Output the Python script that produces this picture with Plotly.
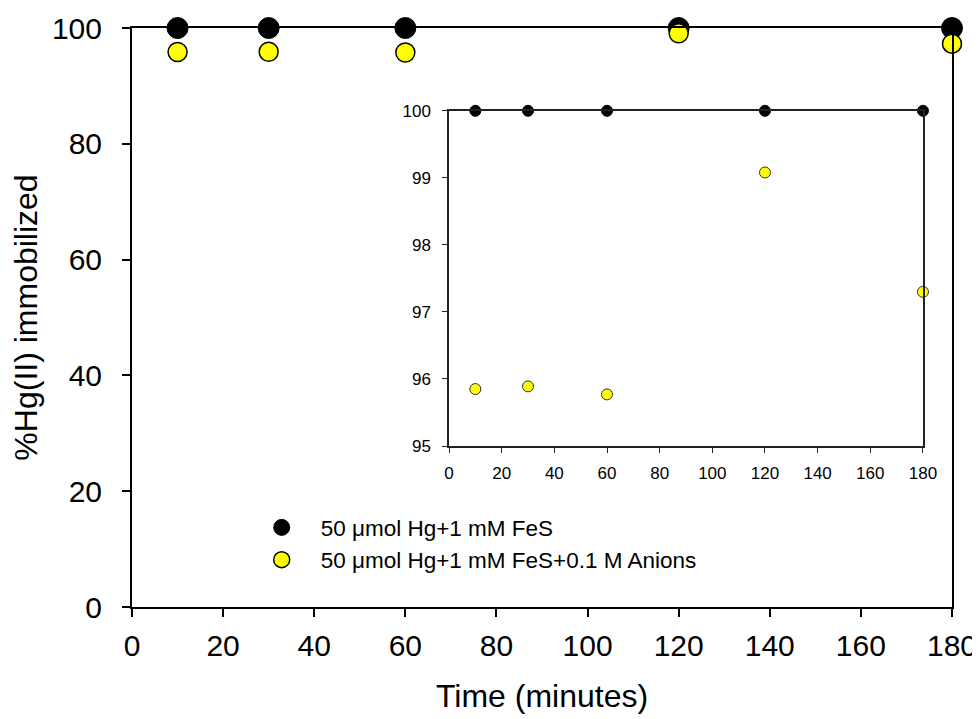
import plotly.graph_objects as go

time_min = [10, 30, 60, 120, 180]
fes_only = [100, 100, 100, 100, 100]
fes_anions = [95.85, 95.89, 95.77, 99.08, 97.30]

name_a = "50 μmol Hg+1 mM FeS"
name_b = "50 μmol Hg+1 mM FeS+0.1 M Anions"

font_family = "Liberation Sans, Arial, sans-serif"

fig = go.Figure()

# main axes
fig.add_trace(go.Scatter(x=time_min, y=fes_only, mode="markers", name=name_a,
                         marker=dict(size=21, color="black", line=dict(color="black", width=1)),
                         cliponaxis=False, xaxis="x", yaxis="y"))
fig.add_trace(go.Scatter(x=time_min, y=fes_anions, mode="markers", name=name_b,
                         marker=dict(size=19, color="#ffff00", line=dict(color="black", width=1.5)),
                         cliponaxis=False, xaxis="x", yaxis="y"))
# inset
fig.add_trace(go.Scatter(x=time_min, y=fes_only, mode="markers", showlegend=False,
                         marker=dict(size=11, color="black", line=dict(color="black", width=1)),
                         cliponaxis=False, xaxis="x2", yaxis="y2"))
fig.add_trace(go.Scatter(x=time_min, y=fes_anions, mode="markers", showlegend=False,
                         marker=dict(size=11, color="#ffff00", line=dict(color="#333333", width=1)),
                         cliponaxis=False, xaxis="x2", yaxis="y2"))

fig.update_layout(
    width=980, height=719,
    margin=dict(l=124, r=36, t=20, b=120, autoexpand=False),
    plot_bgcolor="white", paper_bgcolor="white",
    font=dict(family=font_family, color="black", size=30),
    xaxis=dict(domain=[0, 1], range=[0, 180], tickmode="array",
               tickvals=list(range(0, 181, 20)), showgrid=False, zeroline=False,
               showline=True, linecolor="black", linewidth=2, mirror=True,
               ticks="outside", ticklen=8, tickwidth=1.5, tickcolor="black",
               tickfont=dict(size=30), ticklabelstandoff=3,
               title=dict(text="Time (minutes)", font=dict(size=32), standoff=24)),
    yaxis=dict(domain=[0, 1], range=[0, 100], tickmode="array",
               tickvals=list(range(0, 101, 20)), showgrid=False, zeroline=False,
               showline=True, linecolor="black", linewidth=2, mirror=True,
               ticks="outside", ticklen=8, tickwidth=1.5, tickcolor="black",
               tickfont=dict(size=30), ticklabelstandoff=14,
               title=dict(text="%Hg(II) immobilized", font=dict(size=32), standoff=34)),
    xaxis2=dict(domain=[0.3866, 0.9646], anchor="y2", range=[0, 180], tickmode="array",
                tickvals=list(range(0, 181, 20)), showgrid=False, zeroline=False,
                showline=True, linecolor="#222222", linewidth=1.5, mirror=True,
                ticks="outside", ticklen=5, tickwidth=1, tickcolor="#222222",
                tickfont=dict(size=17), ticklabelstandoff=6),
    yaxis2=dict(domain=[0.278, 0.857], anchor="x2", range=[95, 100], tickmode="array",
                tickvals=[95, 96, 97, 98, 99, 100], showgrid=False, zeroline=False,
                showline=True, linecolor="#222222", linewidth=1.5, mirror=True,
                ticks="outside", ticklen=5, tickwidth=1, tickcolor="#222222",
                tickfont=dict(size=17), ticklabelstandoff=8),
    legend=dict(x=0.135, y=0.174, xanchor="left", yanchor="top",
                bgcolor="rgba(0,0,0,0)", font=dict(size=22.5), itemwidth=68,
                tracegroupgap=0),
    showlegend=True,
)

fig.write_html("out.html")
